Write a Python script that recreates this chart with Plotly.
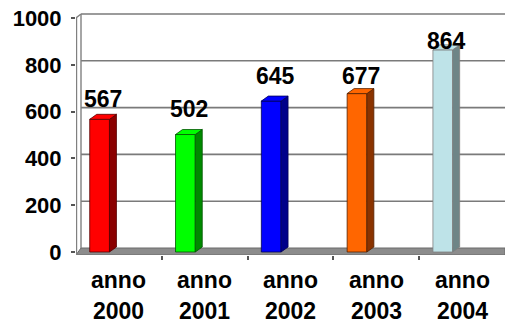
import plotly.graph_objects as go

# ---- data ----
CATEGORIES = ["anno 2000", "anno 2001", "anno 2002", "anno 2003", "anno 2004"]
VALUES = [567, 502, 645, 677, 864]
Y_TICKS = [0, 200, 400, 600, 800, 1000]

# ---- styles ----
FRONT = ["#FF0000", "#00FF00", "#0000FF", "#FF6600", "#BEE3E8"]
SIDE = ["#8A0000", "#008A00", "#00008A", "#8A3300", "#6E8587"]
EDGE = ["#550000", "#005500", "#000055", "#552200", "#7F7F7F"]
LABEL_LIFT = [20, 26, 25, 18, 9]  # pixel lift of value labels

W, H = 505, 325
ML, MR, MT, MB = 76, 0, 8, 70
PX_X = (W - ML - MR) / 5.0          # px per category unit
PX_Y = 0.234                        # px per value unit
Y_LO = -(255 - 252) / PX_Y
Y_HI = (252 - MT) / PX_Y
BACK_DX = 5 / PX_X                  # wall depth in x units
BACK_DY = 4 / PX_Y                  # wall depth in y units
BAR_DX = 7 / PX_X
BAR_DY = 5 / PX_Y
OFF, BW = -0.34, 0.23
FONT = "Liberation Sans, Arial, sans-serif"

fig = go.Figure()
xs = list(range(len(CATEGORIES)))

fig.add_trace(go.Bar(
    x=xs, y=VALUES, base=0, offset=OFF, width=BW,
    marker=dict(color=FRONT, line=dict(color=EDGE, width=0.8)),
    hoverinfo="skip", showlegend=False))

for i, v in enumerate(VALUES):
    x0 = i + OFF
    x1 = x0 + BW
    # side face
    fig.add_trace(go.Scatter(
        x=[x1, x1 + BAR_DX, x1 + BAR_DX, x1, x1],
        y=[0, BAR_DY, v + BAR_DY, v, 0],
        fill="toself", fillcolor=SIDE[i], mode="lines",
        line=dict(color=EDGE[i], width=0.8), hoverinfo="skip", showlegend=False))
    # top face
    fig.add_trace(go.Scatter(
        x=[x0, x1, x1 + BAR_DX, x0 + BAR_DX, x0],
        y=[v, v, v + BAR_DY, v + BAR_DY, v],
        fill="toself", fillcolor=FRONT[i], mode="lines",
        line=dict(color=EDGE[i], width=0.8), hoverinfo="skip", showlegend=False))

shapes = []
# floor
shapes.append(dict(type="path", xref="x", yref="y", layer="below",
                   path=f"M -0.5,{Y_LO} L 4.5,{Y_LO} L 4.5,{BACK_DY} L {-0.5 + BACK_DX},{BACK_DY} Z",
                   fillcolor="#8C8C8C", line=dict(color="#6A6A6A", width=1)))
# gridlines on back wall
for t in Y_TICKS[1:]:
    shapes.append(dict(type="line", xref="x", yref="y", layer="below",
                       x0=-0.5 + BACK_DX, x1=4.5, y0=t + BACK_DY, y1=t + BACK_DY,
                       line=dict(color="#7A7A7A", width=1.6)))
# walls
shapes.append(dict(type="line", xref="x", yref="y", layer="below",
                   x0=-0.5 + BACK_DX, x1=-0.5 + BACK_DX, y0=BACK_DY, y1=Y_TICKS[-1] + BACK_DY,
                   line=dict(color="#808080", width=1.4)))
shapes.append(dict(type="line", xref="x", yref="y", layer="below",
                   x0=-0.5 + 0.006, x1=-0.5 + 0.006, y0=Y_LO, y1=Y_TICKS[-1],
                   line=dict(color="#808080", width=1.4)))
shapes.append(dict(type="line", xref="x", yref="y", layer="below",
                   x0=-0.5, x1=-0.5 + BACK_DX, y0=Y_TICKS[-1], y1=Y_TICKS[-1] + BACK_DY,
                   line=dict(color="#808080", width=1.4)))

annotations = []
for i, v in enumerate(VALUES):
    annotations.append(dict(x=i - 0.18, y=v, xref="x", yref="y", text=f"<b>{v}</b>",
                            showarrow=False, yanchor="middle", yshift=LABEL_LIFT[i],
                            font=dict(family=FONT, size=23, color="#000000")))
for i, c in enumerate(CATEGORIES):
    word, year = c.split(" ")
    annotations.append(dict(x=i, y=0, xref="x", yref="paper", text=f"<b>{word}</b>",
                            showarrow=False, yanchor="middle", yshift=-25,
                            font=dict(family=FONT, size=23, color="#000000")))
    annotations.append(dict(x=i, y=0, xref="x", yref="paper", text=f"<b>{year}</b>",
                            showarrow=False, yanchor="middle", yshift=-56,
                            font=dict(family=FONT, size=23, color="#000000")))

fig.update_layout(
    width=W, height=H,
    margin=dict(l=ML, r=MR, t=MT, b=MB),
    paper_bgcolor="white", plot_bgcolor="white",
    shapes=shapes, annotations=annotations,
    xaxis=dict(range=[-0.5, 4.5], tickvals=[0.5, 1.5, 2.5, 3.5], showticklabels=False,
               ticks="outside", ticklen=4, tickcolor="#555555", tickwidth=1.5,
               showgrid=False, zeroline=False, showline=False, fixedrange=True),
    yaxis=dict(range=[Y_LO, Y_HI], tickvals=Y_TICKS, ticktext=[f"<b>{t}</b>" for t in Y_TICKS],
               ticks="outside", ticklen=4, tickcolor="#555555", tickwidth=1.5,
               ticklabelstandoff=5,
               tickfont=dict(family=FONT, size=22, color="#000000"),
               showgrid=False, zeroline=False, showline=False, fixedrange=True),
)

fig.write_html("out.html")
